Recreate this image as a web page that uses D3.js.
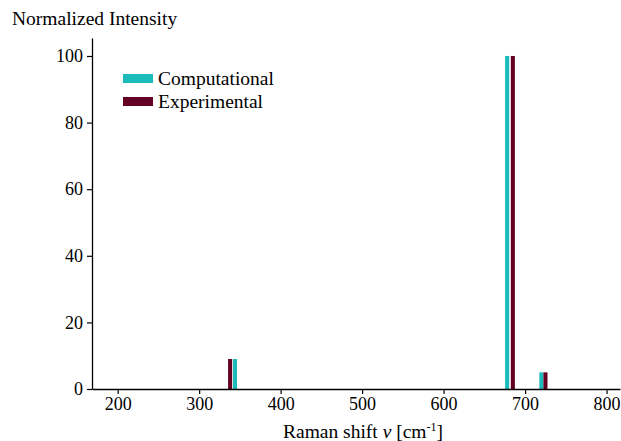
<!DOCTYPE html>
<html>
<head>
<meta charset="utf-8">
<script src="https://cdn.jsdelivr.net/npm/d3@7"></script>
<style>
  body { margin: 0; background: #fff; }
  svg text { font-family: "Liberation Serif", "Times New Roman", serif; fill: #000; }
</style>
</head>
<body>
<script>
// Data
var compShift = [344, 678, 720];
var compIntensity = [9, 100, 5];
var expShift = [338, 685, 725];
var expIntensity = [9, 100, 5];
var xTicks = [200, 300, 400, 500, 600, 700, 800];
var yTicks = [0, 20, 40, 60, 80, 100];
var seriesNames = ["Computational", "Experimental"];
var seriesColors = ["#1abbba", "#650025"];

var width = 621, height = 441;
var margin = {top: 38, right: 1, bottom: 52, left: 92};
var serif = "Liberation Serif, Times New Roman, serif";

var svg = d3.select("body").append("svg")
    .attr("width", width)
    .attr("height", height)
    .attr("font-family", serif);

var x = d3.scaleLinear().domain([168.5, 816.5]).range([margin.left, width - margin.right]);
var y = d3.scaleLinear().domain([0, 105.4]).range([height - margin.bottom, margin.top]);

var barW = 5; // in cm-1

var comp = compShift.map(function(s, i) { return {x: s, v: compIntensity[i]}; });
var exp = expShift.map(function(s, i) { return {x: s, v: expIntensity[i]}; });

function drawBars(data, color) {
    svg.append("g").selectAll("rect")
        .data(data)
        .enter().append("rect")
        .attr("x", function(d) { return x(d.x - barW / 2); })
        .attr("width", function(d) { return x(d.x + barW / 2) - x(d.x - barW / 2); })
        .attr("y", function(d) { return y(d.v); })
        .attr("height", function(d) { return y(0) - y(d.v); })
        .attr("fill", color);
}
drawBars(comp, seriesColors[0]);
drawBars(exp, seriesColors[1]);

// Axes
var xAxis = svg.append("g")
    .attr("transform", "translate(0," + y(0) + ")")
    .call(d3.axisBottom(x).tickValues(xTicks).tickSize(5).tickPadding(3).tickSizeOuter(0));
var yAxis = svg.append("g")
    .attr("transform", "translate(" + margin.left + ",0)")
    .call(d3.axisLeft(y).tickValues(yTicks).tickSize(5).tickPadding(4).tickSizeOuter(0));

[xAxis, yAxis].forEach(function(a) {
    a.attr("font-family", serif).attr("font-size", 18);
    a.selectAll("text").attr("fill", "#000");
    a.select(".domain").attr("stroke", "#000").attr("stroke-width", 1.3);
    a.selectAll(".tick line").attr("stroke", "#000").attr("stroke-width", 1.2);
});

// Axis titles
svg.append("text")
    .attr("x", 12).attr("y", 25)
    .attr("font-size", 19.5)
    .text("Normalized Intensity");

var xl = svg.append("text")
    .attr("x", 363)
    .attr("y", 438)
    .attr("text-anchor", "middle")
    .attr("font-size", 19.5);
xl.append("tspan").text("Raman shift ");
xl.append("tspan").style("font-style", "italic").text("ν");
xl.append("tspan").text(" [cm");
xl.append("tspan").attr("dy", -7).attr("font-size", 12).text("-1");
xl.append("tspan").attr("dy", 7).text("]");

// Legend
var legend = svg.append("g").attr("transform", "translate(123,74)");
seriesNames.forEach(function(name, i) {
    var g = legend.append("g").attr("transform", "translate(0," + (i * 23) + ")");
    g.append("rect").attr("width", 30).attr("height", 9).attr("fill", seriesColors[i]);
    g.append("text").attr("x", 35).attr("y", 11).attr("font-size", 19.5).text(name);
});
</script>
</body>
</html>
